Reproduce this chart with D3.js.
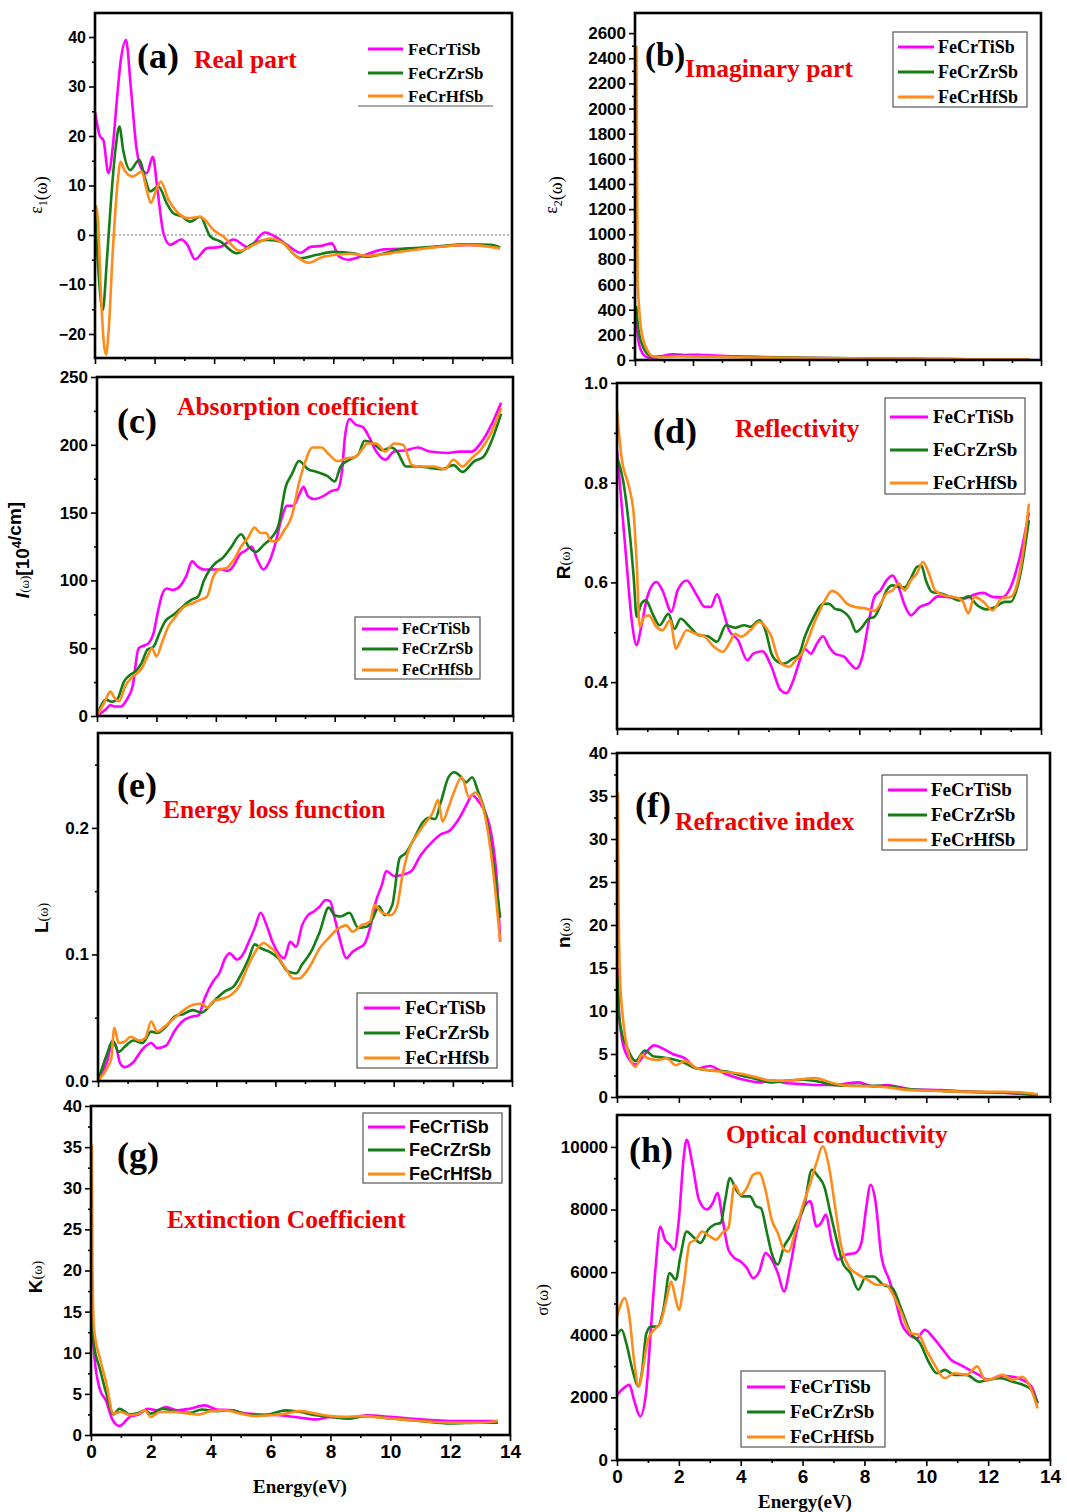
<!DOCTYPE html>
<html>
<head>
<meta charset="utf-8">
<script src="https://cdn.jsdelivr.net/npm/d3@7"></script>
<style>
    body { margin: 0; background: #fff; }
    svg { display: block; }
</style>
</head>
<body>
<div id="fig"></div>
<script>
var SANS = "'Liberation Sans', Arial, sans-serif";
var SERIF = "'Liberation Serif', 'Times New Roman', serif";

var seriesNames = ["FeCrTiSb", "FeCrZrSb", "FeCrHfSb"];
var seriesColors = ["#ff00ff", "#157d15", "#ff8c1a"];

var energyMajor = [0, 2, 4, 6, 8, 10, 12, 14];
var energyMinor = [1, 3, 5, 7, 9, 11, 13];

/************************************************
                Data  [energy (eV), value]
*************************************************/
// (a) real part of dielectric function
var a_TiSb = [[0,24.9],[0.17,19.9],[0.28,19.2],[0.45,12.5],[0.6,18],[0.73,27],[0.86,35],[1.04,39.4],[1.2,30],[1.4,17.2],[1.6,13],[1.74,12.5],[1.94,15.8],[2.1,9],[2.3,0.3],[2.52,-2],[2.9,-0.9],[3.1,-2],[3.36,-4.9],[3.75,-2.7],[4.2,-2.4],[4.65,-0.9],[5.15,-2.5],[5.7,0.5],[6.1,-0.5],[6.45,-2],[6.9,-3.6],[7.23,-2.4],[7.6,-2.2],[7.95,-1.7],[8.2,-4.4],[8.5,-5],[8.9,-4.4],[9.7,-2.9],[10.8,-2.7],[12.5,-2],[13.3,-2.2],[13.6,-2.7]];
var a_ZrSb = [[0,5],[0.1,-6],[0.26,-15.2],[0.4,-5],[0.55,8],[0.7,18],[0.82,21.9],[0.95,17],[1.18,13.1],[1.49,15.2],[1.7,11],[1.85,8.8],[2.13,9.8],[2.41,6.4],[2.63,4.4],[2.9,3.8],[3.2,2.7],[3.53,3.7],[3.87,-0.3],[4.2,-1.3],[4.76,-3.7],[5.32,-1.7],[5.77,-1],[6.22,-1.3],[6.9,-4.7],[7.45,-4],[8.0,-3.4],[8.68,-3.7],[9.13,-4.4],[10.25,-2.9],[11.37,-2.4],[12.5,-1.9],[13.3,-2],[13.6,-2.5]];
var a_HfSb = [[0.03,6],[0.1,3],[0.2,-12],[0.3,-22],[0.37,-24.2],[0.45,-20],[0.6,-3],[0.75,10],[0.86,14.8],[1.0,13],[1.27,11.8],[1.57,12.8],[1.72,9.5],[1.87,6.5],[2.05,9],[2.21,10.8],[2.47,7.1],[2.75,4.7],[3.14,3.4],[3.53,3.7],[3.7,3],[3.98,1],[4.31,-0.3],[4.87,-3.2],[5.32,-2],[5.88,-0.7],[6.33,-1.7],[6.78,-4.4],[7.17,-5.6],[7.67,-4.4],[8.57,-3.8],[9.13,-4.2],[10.25,-3.4],[11.37,-2.5],[12.5,-2],[13.6,-2.7]];

// (b) imaginary part
var b_TiSb = [[0.03,400],[0.07,250],[0.12,150],[0.2,80],[0.3,40],[0.45,20],[0.6,18],[0.9,30],[1.3,45],[1.7,40],[2.2,42],[2.8,35],[3.5,28],[4.5,22],[5.5,18],[6.5,15],[7.5,13],[8.5,11],[9.5,9],[10.5,7],[11.5,6],[12.5,5],[13.6,4]];
var b_ZrSb = [[0.04,430],[0.09,300],[0.15,200],[0.25,120],[0.35,70],[0.5,35],[0.65,25],[0.8,25],[1.0,30],[1.5,32],[2.0,30],[3.0,28],[4.0,25],[5.0,22],[6.0,18],[7.0,15],[8.0,13],[9.0,10],[10.0,8],[11.0,7],[12.0,6],[13.6,5]];
var b_HfSb = [[0.05,2500],[0.07,1650],[0.09,640],[0.14,420],[0.2,260],[0.3,150],[0.4,90],[0.5,50],[0.6,30],[0.8,22],[1.0,25],[1.5,30],[2.0,30],[2.5,28],[3.0,25],[4.0,20],[5.0,18],[6.0,15],[7.0,14],[8.0,12],[9.0,10],[10.0,8],[11.0,7],[12.0,6],[13.6,5]];

// (c) absorption coefficient
var c_TiSb = [[0,0],[0.3,5],[0.45,8],[0.6,7],[0.8,7],[1.0,12],[1.2,22],[1.4,50],[1.6,52],[1.75,54],[1.9,61],[2.05,77],[2.2,90],[2.35,94],[2.55,93],[2.8,96],[3.0,103],[3.2,114],[3.4,110],[3.6,108],[3.9,108],[4.2,108],[4.4,107],[4.6,111],[4.8,119],[5.0,122],[5.2,125],[5.4,115],[5.6,108],[5.8,114],[6.0,127],[6.2,145],[6.4,155],[6.6,155],[6.8,163],[6.95,169],[7.1,162],[7.3,160],[7.6,162],[7.9,166],[8.1,167],[8.25,182],[8.35,207],[8.5,219],[8.7,215],[8.95,213],[9.15,206],[9.4,195],[9.7,189],[10.0,195],[10.4,196],[10.8,198],[11.2,195],[11.8,194],[12.2,195],[12.6,195],[13.0,204],[13.3,216],[13.6,231]];
var c_ZrSb = [[0,0],[0.3,12],[0.5,10.5],[0.7,13],[0.9,25],[1.1,30],[1.3,33],[1.5,39],[1.7,49],[1.9,51],[2.1,61],[2.3,70],[2.6,75],[2.9,81],[3.2,86],[3.4,88],[3.6,100],[3.8,108],[4.0,113],[4.2,116],[4.5,124],[4.85,134],[5.1,125],[5.35,121],[5.6,126],[5.85,131],[6.1,140],[6.35,169],[6.55,178],[6.8,188],[7.1,182],[7.4,180],[7.75,177],[8.0,173],[8.2,184],[8.5,189],[8.8,193],[9.0,203],[9.3,201],[9.6,196],[9.9,198],[10.1,195],[10.4,184],[10.8,184],[11.2,183],[11.6,182],[12.0,185],[12.3,180],[12.7,188],[13.0,191],[13.3,204],[13.6,223]];
var c_HfSb = [[0,0],[0.25,10],[0.45,18],[0.6,13],[0.75,11],[0.95,22],[1.2,29],[1.5,35],[1.7,44],[1.85,50],[2.0,44],[2.2,55],[2.4,66],[2.6,72],[2.9,80],[3.2,83],[3.5,86],[3.7,88],[3.9,102],[4.1,108],[4.35,109],[4.6,115],[4.85,125],[5.1,132],[5.3,139],[5.5,135],[5.7,135],[5.85,129],[6.05,129],[6.3,137],[6.55,147],[6.8,172],[7.0,187],[7.25,198],[7.55,198],[7.8,193],[8.1,188],[8.4,190],[8.7,191],[8.9,196],[9.1,201],[9.4,201],[9.7,195],[10.0,201],[10.3,200],[10.6,185],[10.9,184],[11.3,184],[11.7,182],[12.0,189],[12.3,184],[12.6,190],[12.9,196],[13.2,206],[13.6,227]];

// (d) reflectivity
var d_TiSb = [[0,0.865],[0.15,0.758],[0.3,0.651],[0.5,0.517],[0.65,0.474],[0.8,0.511],[1.0,0.571],[1.3,0.601],[1.5,0.584],[1.8,0.541],[2.0,0.584],[2.3,0.604],[2.6,0.578],[2.9,0.551],[3.1,0.551],[3.3,0.576],[3.5,0.544],[3.7,0.504],[4.0,0.484],[4.3,0.444],[4.5,0.457],[4.8,0.462],[5.1,0.431],[5.4,0.384],[5.6,0.378],[5.8,0.4],[6.0,0.437],[6.2,0.467],[6.4,0.457],[6.6,0.477],[6.8,0.492],[7.0,0.471],[7.2,0.457],[7.5,0.451],[7.7,0.437],[7.9,0.427],[8.1,0.451],[8.3,0.517],[8.5,0.571],[8.7,0.584],[8.9,0.604],[9.1,0.614],[9.3,0.591],[9.5,0.554],[9.7,0.534],[10.0,0.551],[10.3,0.558],[10.6,0.572],[10.9,0.571],[11.2,0.568],[11.5,0.568],[11.8,0.576],[12.1,0.579],[12.4,0.571],[12.7,0.57],[13.0,0.591],[13.3,0.651],[13.6,0.74]];
var d_ZrSb = [[0,0.851],[0.2,0.805],[0.4,0.711],[0.55,0.611],[0.65,0.531],[0.8,0.557],[0.95,0.564],[1.2,0.534],[1.4,0.514],[1.7,0.537],[1.9,0.507],[2.1,0.527],[2.4,0.511],[2.7,0.494],[3.0,0.492],[3.3,0.481],[3.6,0.514],[3.9,0.509],[4.2,0.514],[4.4,0.511],[4.7,0.524],[4.9,0.504],[5.1,0.457],[5.3,0.441],[5.5,0.437],[5.8,0.447],[6.0,0.454],[6.2,0.491],[6.5,0.531],[6.8,0.557],[7.0,0.557],[7.2,0.547],[7.4,0.544],[7.7,0.527],[7.9,0.501],[8.1,0.511],[8.3,0.527],[8.5,0.531],[8.7,0.554],[8.9,0.584],[9.1,0.594],[9.3,0.591],[9.5,0.59],[9.7,0.608],[9.9,0.631],[10.05,0.634],[10.2,0.604],[10.4,0.581],[10.7,0.578],[11.0,0.571],[11.3,0.564],[11.6,0.572],[11.9,0.554],[12.2,0.546],[12.5,0.551],[12.8,0.561],[13.0,0.561],[13.3,0.611],[13.6,0.725]];
var d_HfSb = [[0,0.945],[0.15,0.851],[0.4,0.791],[0.55,0.738],[0.65,0.638],[0.75,0.511],[0.9,0.531],[1.05,0.534],[1.3,0.511],[1.5,0.504],[1.75,0.524],[1.95,0.467],[2.1,0.484],[2.3,0.504],[2.6,0.497],[2.9,0.491],[3.2,0.471],[3.5,0.461],[3.7,0.477],[3.9,0.497],[4.1,0.491],[4.4,0.504],[4.7,0.521],[4.9,0.511],[5.1,0.491],[5.3,0.451],[5.5,0.434],[5.7,0.431],[5.9,0.444],[6.1,0.457],[6.3,0.484],[6.5,0.517],[6.7,0.544],[6.9,0.568],[7.1,0.583],[7.3,0.577],[7.6,0.557],[7.9,0.55],[8.2,0.548],[8.5,0.543],[8.7,0.557],[8.9,0.578],[9.1,0.584],[9.3,0.598],[9.5,0.584],[9.7,0.604],[9.9,0.618],[10.1,0.641],[10.3,0.618],[10.5,0.584],[10.8,0.574],[11.1,0.571],[11.4,0.564],[11.6,0.538],[11.8,0.571],[12.1,0.561],[12.4,0.544],[12.7,0.568],[13.0,0.571],[13.2,0.594],[13.4,0.658],[13.6,0.758]];

// (e) energy loss function
var e_TiSb = [[0,0],[0.3,0.015],[0.5,0.031],[0.6,0.028],[0.75,0.014],[0.9,0.011],[1.2,0.015],[1.5,0.025],[1.8,0.03],[2.0,0.026],[2.3,0.028],[2.6,0.04],[2.9,0.048],[3.2,0.051],[3.4,0.052],[3.6,0.065],[3.9,0.079],[4.1,0.085],[4.3,0.097],[4.45,0.101],[4.7,0.096],[4.9,0.1],[5.1,0.11],[5.3,0.121],[5.5,0.133],[5.7,0.123],[5.9,0.11],[6.1,0.101],[6.3,0.097],[6.5,0.11],[6.7,0.106],[6.9,0.123],[7.1,0.131],[7.3,0.134],[7.5,0.138],[7.7,0.143],[7.85,0.142],[8.0,0.129],[8.2,0.11],[8.4,0.097],[8.6,0.102],[8.8,0.105],[9.0,0.108],[9.2,0.121],[9.4,0.142],[9.6,0.155],[9.75,0.166],[10.0,0.162],[10.3,0.163],[10.6,0.166],[10.9,0.178],[11.3,0.189],[11.6,0.195],[11.9,0.198],[12.2,0.207],[12.5,0.22],[12.65,0.226],[12.9,0.22],[13.1,0.212],[13.3,0.195],[13.5,0.155],[13.6,0.11]];
var e_ZrSb = [[0,0],[0.3,0.021],[0.5,0.032],[0.7,0.023],[0.9,0.027],[1.2,0.032],[1.5,0.03],[1.8,0.039],[2.0,0.038],[2.3,0.043],[2.6,0.051],[2.9,0.053],[3.2,0.056],[3.5,0.054],[3.8,0.06],[4.0,0.065],[4.3,0.071],[4.6,0.075],[4.9,0.087],[5.1,0.097],[5.3,0.108],[5.5,0.105],[5.8,0.102],[6.1,0.097],[6.4,0.087],[6.7,0.085],[6.9,0.092],[7.2,0.102],[7.5,0.118],[7.8,0.137],[8.0,0.131],[8.2,0.13],[8.5,0.133],[8.8,0.121],[9.1,0.122],[9.3,0.129],[9.5,0.138],[9.7,0.131],[9.95,0.139],[10.2,0.176],[10.4,0.18],[10.7,0.192],[11.0,0.205],[11.2,0.208],[11.4,0.207],[11.6,0.221],[11.85,0.24],[12.05,0.244],[12.25,0.241],[12.45,0.236],[12.65,0.24],[12.85,0.229],[13.1,0.211],[13.3,0.184],[13.6,0.129]];
var e_HfSb = [[0,0],[0.3,0.01],[0.45,0.018],[0.55,0.042],[0.7,0.03],[0.9,0.031],[1.1,0.035],[1.4,0.032],[1.6,0.034],[1.8,0.047],[2.0,0.039],[2.3,0.044],[2.6,0.05],[2.9,0.056],[3.2,0.06],[3.5,0.061],[3.7,0.058],[3.9,0.063],[4.2,0.065],[4.5,0.068],[4.8,0.076],[5.0,0.087],[5.2,0.097],[5.4,0.105],[5.6,0.109],[5.8,0.106],[6.0,0.102],[6.2,0.094],[6.4,0.087],[6.6,0.081],[6.8,0.081],[7.0,0.085],[7.2,0.092],[7.5,0.105],[7.8,0.113],[8.1,0.12],[8.4,0.123],[8.6,0.118],[8.9,0.123],[9.2,0.126],[9.35,0.139],[9.6,0.133],[9.9,0.131],[10.1,0.137],[10.3,0.163],[10.5,0.182],[10.8,0.195],[11.1,0.205],[11.3,0.211],[11.5,0.222],[11.65,0.205],[11.85,0.216],[12.05,0.229],[12.3,0.24],[12.55,0.224],[12.75,0.228],[13.0,0.218],[13.2,0.195],[13.4,0.158],[13.6,0.11]];

// (f) refractive index
var f_TiSb = [[0.02,15],[0.06,10],[0.15,7],[0.3,5],[0.6,3.8],[0.9,5],[1.2,6.0],[1.5,5.6],[1.8,5.0],[2.2,4.5],[2.6,3.3],[3.0,3.6],[3.5,2.7],[4.0,2.1],[4.6,1.7],[5.0,1.9],[5.5,1.6],[6.0,1.5],[6.5,1.4],[7.0,1.4],[7.5,1.6],[7.8,1.7],[8.3,1.2],[8.7,1.4],[9.5,0.9],[10.5,0.8],[11.5,0.6],[12.5,0.5],[13.6,0.2]];
var f_ZrSb = [[0.02,14],[0.06,10],[0.15,7.5],[0.3,6],[0.6,4.2],[0.9,5.4],[1.2,4.7],[1.5,4.6],[1.8,4.4],[2.1,4.1],[2.5,3.4],[3.0,3.1],[3.5,3.0],[4.0,2.5],[4.5,2.1],[5.0,1.7],[5.5,1.9],[6.0,2.0],[6.5,1.8],[7.0,1.4],[7.5,1.3],[8.5,1.3],[9.5,0.9],[10.5,0.7],[11.5,0.6],[12.5,0.5],[13.6,0.3]];
var f_HfSb = [[0.03,35.4],[0.05,24],[0.09,14.4],[0.2,8.9],[0.35,5.4],[0.6,3.5],[0.8,4.9],[1.0,4.5],[1.3,4.3],[1.6,4.5],[1.9,3.7],[2.2,4.2],[2.6,3.3],[3.0,3.1],[3.5,2.9],[4.0,2.7],[4.5,2.3],[5.0,1.9],[5.5,1.9],[6.0,2.1],[6.4,2.2],[7.0,1.6],[7.5,1.3],[8.5,1.2],[9.5,0.8],[10.5,0.7],[11.5,0.6],[12.5,0.6],[13.2,0.5],[13.6,0.3]];

// (g) extinction coefficient
var g_TiSb = [[0.02,15],[0.1,10],[0.3,5.5],[0.5,4.2],[0.7,2.0],[0.95,1.1],[1.3,2.2],[1.6,2.5],[1.9,3.2],[2.2,3.0],[2.5,3.4],[2.9,3.0],[3.3,3.2],[3.8,3.6],[4.2,3.1],[4.7,3.0],[5.2,2.6],[5.8,2.5],[6.3,2.4],[7.0,2.1],[7.5,1.9],[8.0,2.2],[8.6,2.0],[9.2,2.4],[10.0,2.2],[11.0,1.9],[12.0,1.7],[13.0,1.7],[13.6,1.7]];
var g_ZrSb = [[0.02,14],[0.1,11],[0.3,8],[0.5,5.2],[0.75,2.5],[0.95,3.2],[1.3,2.5],[1.6,2.7],[1.8,3.0],[2.0,2.6],[2.4,3.2],[2.9,2.8],[3.3,2.7],[3.7,3.1],[4.2,2.9],[4.7,3.0],[5.2,2.5],[5.8,2.4],[6.5,3.0],[7.0,2.8],[7.5,2.4],[8.0,2.2],[8.6,2.0],[9.2,2.3],[10.0,2.0],[11.0,1.7],[12.0,1.4],[13.0,1.5],[13.6,1.5]];
var g_HfSb = [[0.03,35.3],[0.05,20],[0.1,13],[0.3,9.3],[0.5,6.5],[0.75,2.6],[1.0,2.8],[1.3,2.4],[1.6,2.6],[1.8,3.0],[2.0,2.2],[2.3,2.8],[2.8,2.8],[3.3,2.6],[3.6,2.5],[4.0,2.9],[4.5,3.0],[5.0,2.6],[5.5,2.3],[6.0,2.4],[6.5,2.6],[7.0,2.9],[7.5,2.6],[8.0,2.3],[8.5,2.2],[9.0,2.3],[10.0,2.0],[11.0,1.7],[12.0,1.5],[13.0,1.5],[13.6,1.7]];

// (h) optical conductivity
var h_TiSb = [[0,2080],[0.15,2240],[0.4,2400],[0.55,1920],[0.75,1390],[0.95,2240],[1.1,4260],[1.25,6180],[1.4,7460],[1.55,7040],[1.7,6880],[1.85,6720],[2.0,7680],[2.15,9600],[2.25,10230],[2.45,9380],[2.65,8310],[2.9,8000],[3.1,8210],[3.25,8530],[3.4,7780],[3.6,6720],[3.8,6450],[4.0,6340],[4.2,6130],[4.4,5810],[4.6,6020],[4.8,6610],[5.0,6400],[5.2,5970],[5.4,5380],[5.6,6180],[5.8,7250],[6.05,8100],[6.25,8260],[6.45,7460],[6.6,7570],[6.75,7830],[6.95,6930],[7.15,6400],[7.4,6560],[7.7,6610],[7.9,6930],[8.05,8000],[8.2,8790],[8.35,8310],[8.55,6500],[8.8,5760],[9.0,5120],[9.2,4370],[9.45,4000],[9.7,3890],[9.95,4160],[10.2,3940],[10.5,3570],[10.8,3200],[11.1,3040],[11.4,2880],[11.7,2720],[12.0,2560],[12.4,2690],[12.8,2660],[13.1,2560],[13.4,2350],[13.6,1810]];
var h_ZrSb = [[0,4000],[0.15,4160],[0.3,3730],[0.5,2880],[0.7,2350],[0.8,2770],[0.95,4050],[1.1,4260],[1.3,4260],[1.5,4800],[1.7,5970],[1.9,5760],[2.05,6500],[2.25,7300],[2.45,7140],[2.7,6930],[2.95,7360],[3.15,7520],[3.35,7570],[3.5,8310],[3.65,9010],[3.85,8630],[4.05,8420],[4.3,8420],[4.5,8100],[4.65,8050],[4.85,7250],[5.0,6610],[5.2,6240],[5.4,6820],[5.6,7140],[5.8,7570],[6.05,8100],[6.3,9270],[6.5,9060],[6.7,8740],[6.9,7890],[7.1,7040],[7.3,6290],[7.55,5970],[7.8,5440],[8.05,5860],[8.3,5860],[8.6,5600],[8.9,5490],[9.2,4800],[9.5,4050],[9.8,3730],[10.1,3090],[10.35,2770],[10.6,2880],[10.9,2720],[11.3,2720],[11.7,2500],[12.0,2560],[12.4,2610],[12.8,2500],[13.2,2370],[13.4,2240],[13.6,1810]];
var h_HfSb = [[0,4580],[0.25,5170],[0.4,4580],[0.55,3200],[0.7,2350],[0.85,2990],[1.0,3840],[1.2,4160],[1.4,4370],[1.6,5120],[1.75,5700],[1.9,5120],[2.0,4800],[2.15,5540],[2.35,6930],[2.55,7040],[2.75,7300],[3.0,7140],[3.2,7040],[3.4,7250],[3.6,7410],[3.8,8790],[4.0,8470],[4.2,8690],[4.4,9110],[4.6,9170],[4.8,8630],[5.0,7680],[5.2,7250],[5.4,6720],[5.55,6660],[5.75,7250],[6.0,8100],[6.25,8850],[6.45,9490],[6.65,10020],[6.85,9380],[7.05,8100],[7.25,6820],[7.5,6180],[7.8,5920],[8.1,5760],[8.4,5600],[8.7,5600],[8.9,5330],[9.2,4690],[9.5,4050],[9.75,4000],[10.0,3520],[10.3,2990],[10.6,2610],[10.9,2770],[11.3,2720],[11.65,2990],[11.9,2560],[12.2,2610],[12.45,2720],[12.8,2560],[13.1,2660],[13.35,2350],[13.6,1650]];


var svg;

init();

function init() {
    svg = d3.select("#fig").append("svg")
        .attr("xmlns", "http://www.w3.org/2000/svg")
        .attr("width", 1067)
        .attr("height", 1512);

    svg.append("rect").attr("width", 1067).attr("height", 1512).attr("fill", "#fff");

    var panels = [
        {
            id: "a", frame: [95, 13, 512, 358], yDomain: [-24.85, 44.85],
            yMajor: [-20, -10, 0, 10, 20, 30, 40], yMinor: [-15, -5, 5, 15, 25, 35], yFmt: d3.format("d"), tickSize: 16,
            data: [a_TiSb, a_ZrSb, a_HfSb], zeroLine: true,
            letter: ["(a)", 137, 68, 36], title: ["Real part", 194, 68],
            yTitle: { x: 42, y: 195, parts: [["ε", SERIF, 18, "normal"], ["1", SERIF, 12, "normal", 5], ["(ω)", SERIF, 18, "normal"]] },
            legend: { box: null, underline: [358, 493, 106], lineX: [368, 403], textX: 408, rows: [49, 73, 96], size: 17, font: SERIF }
        },
        {
            id: "b", frame: [635, 13, 1041, 360], yDomain: [0, 2760],
            yMajor: d3.range(0, 2601, 200), yMinor: d3.range(100, 2700, 200), yFmt: d3.format("d"), tickSize: 17,
            data: [b_TiSb, b_ZrSb, b_HfSb],
            letter: ["(b)", 645, 66, 33], title: ["Imaginary part", 685, 77],
            yTitle: { x: 557, y: 195, parts: [["ε", SERIF, 18, "normal"], ["2", SERIF, 12, "normal", 5], ["(ω)", SERIF, 18, "normal"]] },
            legend: { box: [893, 32, 1027, 107], lineX: [898, 934], textX: 938, rows: [47, 72, 97], size: 18, font: SERIF }
        },
        {
            id: "c", frame: [97, 377, 513, 716], yDomain: [0, 250],
            yMajor: d3.range(0, 251, 50), yMinor: d3.range(25, 250, 50), yFmt: d3.format("d"), tickSize: 17,
            data: [c_TiSb, c_ZrSb, c_HfSb],
            letter: ["(c)", 117, 433, 36], title: ["Absorption coefficient", 177, 415],
            yTitle: { x: 29, y: 550, parts: [["I", SANS, 19, "bold", 0, "italic"], ["(ω)", SERIF, 13, "normal"], ["[10", SANS, 19, "bold"], ["4", SANS, 13, "bold", -8], ["/cm]", SANS, 19, "bold"]] },
            legend: { box: [355, 617, 480, 679], lineX: [362, 398], textX: 402, rows: [629, 649, 670], size: 16, font: SERIF }
        },
        {
            id: "d", frame: [617, 383, 1041, 729], yDomain: [0.306, 1.0],
            yMajor: [0.4, 0.6, 0.8, 1.0], yMinor: [0.5, 0.7, 0.9], yFmt: d3.format(".1f"), tickSize: 17,
            data: [d_TiSb, d_ZrSb, d_HfSb],
            letter: ["(d)", 653, 443, 36], title: ["Reflectivity", 735, 437],
            yTitle: { x: 570, y: 563, parts: [["R", SANS, 19, "bold"], ["(ω)", SERIF, 14, "normal"]] },
            legend: { box: [885, 398, 1025, 494], lineX: [890, 928], textX: 933, rows: [417, 450, 483], size: 19, font: SERIF }
        },
        {
            id: "e", frame: [98, 733, 512, 1081], yDomain: [0, 0.275],
            yMajor: [0, 0.1, 0.2], yMinor: [0.05, 0.15, 0.25], yFmt: d3.format(".1f"), tickSize: 17,
            data: [e_TiSb, e_ZrSb, e_HfSb],
            letter: ["(e)", 117, 797, 36], title: ["Energy loss function", 163, 818],
            yTitle: { x: 48, y: 918, parts: [["L", SANS, 19, "bold"], ["(ω)", SERIF, 14, "normal"]] },
            legend: { box: [357, 993, 497, 1068], lineX: [364, 400], textX: 405, rows: [1008, 1033, 1058], size: 19, font: SERIF }
        },
        {
            id: "f", frame: [617, 753, 1050, 1097], yDomain: [0, 40],
            yMajor: d3.range(0, 41, 5), yMinor: d3.range(2.5, 40, 5), yFmt: d3.format("d"), tickSize: 17,
            data: [f_TiSb, f_ZrSb, f_HfSb],
            letter: ["(f)", 635, 817, 36], title: ["Refractive index", 675, 830],
            yTitle: { x: 570, y: 933, parts: [["n", SANS, 19, "bold"], ["(ω)", SERIF, 14, "normal"]] },
            legend: { box: [882, 775, 1027, 850], lineX: [888, 927], textX: 931, rows: [790, 815, 840], size: 19, font: SERIF }
        },
        {
            id: "g", frame: [91, 1106, 510, 1435], yDomain: [0, 40],
            yMajor: d3.range(0, 41, 5), yMinor: d3.range(2.5, 40, 5), yFmt: d3.format("d"), tickSize: 17,
            data: [g_TiSb, g_ZrSb, g_HfSb], xLabels: [300, 1493],
            letter: ["(g)", 117, 1167, 36], title: ["Extinction Coefficient", 167, 1228],
            yTitle: { x: 42, y: 1277, parts: [["K", SANS, 19, "bold"], ["(ω)", SERIF, 14, "normal"]] },
            legend: { box: [363, 1113, 502, 1183], lineX: [368, 405], textX: 409, rows: [1127, 1150, 1174], size: 18, font: SANS }
        },
        {
            id: "h", frame: [617, 1115, 1050, 1460], yDomain: [0, 11020],
            yMajor: d3.range(0, 10001, 2000), yMinor: d3.range(1000, 11000, 2000), yFmt: d3.format("d"), tickSize: 17,
            data: [h_TiSb, h_ZrSb, h_HfSb], xLabels: [805, 1508],
            letter: ["(h)", 629, 1162, 36], title: ["Optical conductivity", 726, 1143],
            yTitle: { x: 548, y: 1300, parts: [["σ", SERIF, 17, "normal"], ["(ω)", SERIF, 17, "normal"]] },
            legend: { box: [741, 1371, 885, 1447], lineX: [747, 785], textX: 790, rows: [1387, 1412, 1437], size: 19, font: SERIF }
        }
    ];

    panels.forEach(drawPanel);
}

function drawPanel(p) {
    var x0 = p.frame[0], y0 = p.frame[1], x1 = p.frame[2], y1 = p.frame[3];
    var g = svg.append("g").attr("id", "panel-" + p.id);

    var x = d3.scaleLinear().domain([0, 14]).range([x0, x1]);
    var y = d3.scaleLinear().domain(p.yDomain).range([y1, y0]);

    svg.append("clipPath").attr("id", "clip-" + p.id)
        .append("rect")
        .attr("x", x0).attr("y", y0)
        .attr("width", x1 - x0).attr("height", y1 - y0);

    if (p.zeroLine) {
        g.append("line")
            .attr("x1", x0).attr("x2", x1)
            .attr("y1", y(0)).attr("y2", y(0))
            .attr("stroke", "#777")
            .attr("stroke-width", 1)
            .attr("stroke-dasharray", "2,2");
    }

    var line = d3.line()
        .x(function (d) { return x(d[0]); })
        .y(function (d) { return y(d[1]); })
        .curve(d3.curveMonotoneX);

    p.data.forEach(function (s, i) {
        g.append("path")
            .datum(s)
            .attr("clip-path", "url(#clip-" + p.id + ")")
            .attr("d", line)
            .attr("fill", "none")
            .attr("stroke", seriesColors[i])
            .attr("stroke-width", 2.6)
            .attr("stroke-linejoin", "round");
    });

    //Axes: major then minor ticks, outward
    var yAx = g.append("g").attr("transform", "translate(" + x0 + ",0)")
        .call(d3.axisLeft(y).tickValues(p.yMajor).tickSize(6).tickPadding(3).tickFormat(p.yFmt));
    g.append("g").attr("transform", "translate(" + x0 + ",0)")
        .call(d3.axisLeft(y).tickValues(p.yMinor).tickSize(3).tickFormat(""));

    var xAx = g.append("g").attr("transform", "translate(0," + y1 + ")")
        .call(d3.axisBottom(x).tickValues(energyMajor).tickSize(6).tickPadding(4)
            .tickFormat(p.xLabels ? d3.format("d") : ""));
    g.append("g").attr("transform", "translate(0," + y1 + ")")
        .call(d3.axisBottom(x).tickValues(energyMinor).tickSize(3).tickFormat(""));

    g.selectAll(".domain").remove();
    g.selectAll(".tick line").attr("stroke", "#000").attr("stroke-width", 1.6);
    yAx.selectAll("text")
        .attr("font-family", SANS).attr("font-weight", "bold")
        .attr("font-size", p.tickSize).attr("fill", "#000");
    xAx.selectAll("text")
        .attr("font-family", SANS).attr("font-weight", "bold")
        .attr("font-size", 19).attr("fill", "#000");

    //Frame
    g.append("rect")
        .attr("x", x0).attr("y", y0)
        .attr("width", x1 - x0).attr("height", y1 - y0)
        .attr("fill", "none")
        .attr("stroke", "#000")
        .attr("stroke-width", 2.6);

    if (p.xLabels) {
        g.append("text")
            .attr("x", p.xLabels[0]).attr("y", p.xLabels[1])
            .attr("text-anchor", "middle")
            .attr("font-family", SERIF).attr("font-weight", "bold")
            .attr("font-size", 19)
            .text("Energy(eV)");
    }

    //Y title
    var yt = g.append("text")
        .attr("transform", "translate(" + p.yTitle.x + "," + p.yTitle.y + ") rotate(-90)")
        .attr("text-anchor", "middle")
        .attr("fill", "#000");
    p.yTitle.parts.forEach(function (part) {
        yt.append("tspan")
            .attr("font-family", part[1])
            .attr("font-size", part[2])
            .attr("font-weight", part[3])
            .attr("font-style", part[5] || "normal")
            .attr("dy", part[4] || 0)
            .text(part[0]);
        if (part[4]) {
            yt.append("tspan").attr("dy", -part[4]).text("");
        }
    });

    //Panel letter and title
    g.append("text")
        .attr("x", p.letter[1]).attr("y", p.letter[2])
        .attr("font-family", SERIF).attr("font-weight", "bold")
        .attr("font-size", p.letter[3])
        .text(p.letter[0]);

    g.append("text")
        .attr("x", p.title[1]).attr("y", p.title[2])
        .attr("font-family", SERIF).attr("font-weight", "bold")
        .attr("font-size", 25.5)
        .attr("fill", "#ee0000")
        .text(p.title[0]);

    drawLegend(g, p.legend);
}

function drawLegend(g, lg) {
    if (lg.box) {
        g.append("rect")
            .attr("x", lg.box[0]).attr("y", lg.box[1])
            .attr("width", lg.box[2] - lg.box[0])
            .attr("height", lg.box[3] - lg.box[1])
            .attr("fill", "#fff")
            .attr("stroke", "#555")
            .attr("stroke-width", 1.2);
    }
    if (lg.underline) {
        g.append("line")
            .attr("x1", lg.underline[0]).attr("x2", lg.underline[1])
            .attr("y1", lg.underline[2]).attr("y2", lg.underline[2])
            .attr("stroke", "#555").attr("stroke-width", 1.2);
    }
    seriesNames.forEach(function (name, i) {
        g.append("line")
            .attr("x1", lg.lineX[0]).attr("x2", lg.lineX[1])
            .attr("y1", lg.rows[i]).attr("y2", lg.rows[i])
            .attr("stroke", seriesColors[i])
            .attr("stroke-width", 3);
        g.append("text")
            .attr("x", lg.textX)
            .attr("y", lg.rows[i] + lg.size * 0.34)
            .attr("font-family", lg.font)
            .attr("font-weight", "bold")
            .attr("font-size", lg.size)
            .text(name);
    });
}
</script>
</body>
</html>
